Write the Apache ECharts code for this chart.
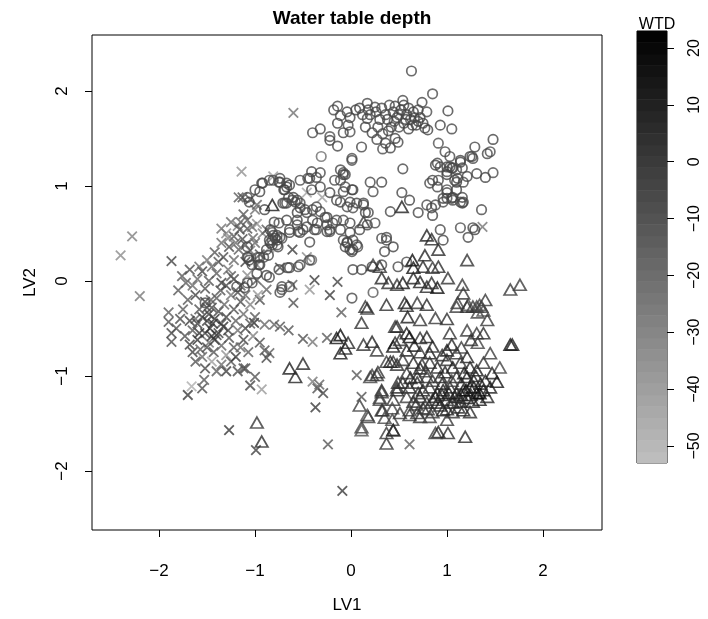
<!DOCTYPE html>
<html>
<head>
<meta charset="utf-8">
<script src="https://cdn.jsdelivr.net/npm/echarts@6/dist/echarts.min.js"></script>
<style>
html,body{margin:0;padding:0;background:#fff}
#chart{width:708px;height:619px}
</style>
</head>
<body>
<div id="chart"></div>
<script>
// Sites as [LV1, LV2, WTD]; one array per group/symbol.
const crossPts = [
[-2.40,0.27,-32],[-2.28,0.47,-28],[-2.20,-0.16,-24],[-1.87,0.21,-4],[-1.14,1.15,-34],[-0.60,1.77,-22],[-0.81,1.10,-40],[-0.46,0.93,-42],[-0.30,0.88,-40],[1.37,0.57,-24],[-0.09,-2.21,0],[-1.27,-1.57,2],[-0.99,-1.78,-2],[-0.24,-1.72,-12],[0.61,-1.72,-14],
[-1.90,-0.33,-14],[-1.90,-0.43,-10],[-1.87,-0.55,-6],[-1.87,-0.64,-8],[-1.70,-1.20,0],[-1.66,-1.11,-46],[-1.53,-1.04,-12],[-1.55,-1.13,-8],[-1.05,-1.10,-5],[-1.00,-1.01,-10],[-0.93,-1.14,-38],[-1.10,-0.92,-5],[-0.90,-0.73,-10],[-0.85,-0.76,-14],[-1.01,-0.44,6],
[-0.90,-0.46,-18],[-0.80,-0.46,-16],[-0.74,-0.48,-12],[-0.65,-0.52,-10],[-0.50,-0.61,-8],[-0.40,-0.64,-24],[-0.25,-0.60,-12],[-0.88,-0.81,-6],[-1.12,-0.92,-8],[-0.40,-1.06,-26],[-0.35,-1.13,-10],[-0.29,-1.18,-4],[-0.37,-1.33,0],[-0.33,-1.09,-16],[0.06,-0.99,-12],[0.11,-1.22,-10],[-0.10,-0.33,-14],
[-0.60,-0.23,-10],[-0.38,0.01,-2],[-0.14,-0.01,-4],[-0.22,-0.15,0],[-0.61,-0.04,-14],[-0.43,-0.09,-36],[-0.61,0.33,-2],[-0.46,0.25,-32],[-0.74,0.14,-6],[-0.98,0.01,-12],[-0.88,-0.09,-16],[-0.95,-0.20,-8],
[-1.17,0.88,-14],[-1.05,0.86,-7],[-1.00,0.75,-22],[-1.12,0.70,-12],[-1.25,0.62,-17],[-1.18,0.58,-25],[-1.08,0.55,-10],[-0.98,0.60,-34],[-1.30,0.50,-32],[-1.22,0.47,-12],[-1.13,0.44,-7],[-1.02,0.45,-17],[-0.92,0.50,-28],[-1.35,0.40,-20],[-1.27,0.36,-6],[-1.17,0.33,-14],[-1.05,0.32,-22],[-0.95,0.28,-10],[-0.85,0.35,-40],[-1.42,0.30,-12],[-1.33,0.25,-8],[-1.22,0.22,-18],[-1.10,0.20,-4],[-0.98,0.17,-28],
[-1.76,0.05,-12],[-1.68,0.12,-7],[-1.60,0.02,-17],[-1.55,0.10,-4],[-1.48,0.00,-10],[-1.40,0.08,-14],[-1.35,-0.02,-2],[-1.28,0.12,-22],[-1.22,0.02,-6],[-1.15,-0.05,-12],[-1.08,0.06,-32],[-1.65,-0.05,-20],[-1.52,-0.08,-8],[-1.72,-0.02,-14],
[-1.70,-0.20,-12],[-1.62,-0.15,-4],[-1.58,-0.30,-10],[-1.52,-0.22,-2],[-1.48,-0.35,0],[-1.45,-0.28,-6],[-1.42,-0.40,2],[-1.40,-0.18,-12],[-1.38,-0.32,-4],[-1.35,-0.45,-8],[-1.32,-0.25,-17],[-1.30,-0.38,-2],[-1.25,-0.15,-22],[-1.22,-0.30,-10],[-1.20,-0.42,-14],[-1.15,-0.22,-7],[-1.12,-0.35,-20],[-1.05,-0.25,-28],[-1.00,-0.38,-12],[-0.97,-0.15,-36],[-1.50,-0.42,-4],[-1.62,-0.40,-17],[-1.44,-0.45,3],[-1.55,-0.38,0],
[-1.73,-0.58,-7],[-1.68,-0.67,-2],[-1.65,-0.52,-12],[-1.60,-0.62,3],[-1.57,-0.72,-14],[-1.52,-0.55,-4],[-1.48,-0.65,-22],[-1.43,-0.75,-10],[-1.40,-0.57,-6],[-1.35,-0.68,-17],[-1.30,-0.78,-34],[-1.27,-0.60,-8],[-1.22,-0.70,-12],[-1.18,-0.52,-20],[-1.12,-0.62,-4],[-1.07,-0.75,-14],[-1.02,-0.58,-28],[-0.95,-0.65,-10],[-1.45,-0.85,-40],[-1.35,-0.88,-20],[-1.25,-0.85,-12],[-1.18,-0.95,-7],[-1.55,-0.80,-17],
[-1.13,0.88,-10],[-0.98,0.80,-16],[-1.08,0.64,-12],[-1.03,0.57,-20],[-1.16,0.54,-8],[-0.88,0.54,-14],
[-1.60,-0.45,-2],[-1.47,-0.50,2],[-1.38,-0.55,-4],[-1.33,-0.48,4],[-1.28,-0.52,-6],[-1.42,-0.62,0],[-1.50,-0.28,-7],[-1.46,-0.20,-14],[-1.36,-0.10,-10],[-1.30,-0.05,-4],[-1.25,0.05,-12],[-1.18,-0.12,-8],[-1.10,-0.15,-16],[-1.58,-0.55,2],[-1.65,-0.75,-4],[-1.62,-0.85,-10],[-1.52,-0.92,-6],[-1.40,-0.95,-14],[-1.30,-0.95,-2],[-1.20,-0.80,0],[-1.15,-0.70,-18],[-1.10,-0.50,-6],[-1.05,-0.45,-12],[-1.45,0.15,-16],[-1.38,0.20,-10],[-1.50,0.22,-22],[-1.58,0.15,-18],[-1.80,-0.10,-12],[-1.78,-0.40,-6],[-1.82,-0.50,-10],[-1.68,-0.42,-2],[-1.75,-0.30,-14],[-1.20,0.40,-20],[-1.28,0.45,-28],[-1.10,0.38,-12],[-1.00,0.40,-18],[-1.35,0.55,-22],[-1.15,0.62,-16],[-1.45,-0.58,2],[-1.50,-0.70,-8]
];

const circlePts = [
[0.63,2.21,-5],[0.85,1.97,-7],[1.01,1.79,-3],[1.05,1.60,-6],[0.93,1.64,-4],[0.91,1.45,-9],
[-0.14,1.84,-5],[-0.04,1.78,-3],[-0.11,1.74,-7],[-0.01,1.72,-4],[-0.03,1.64,-6],[-0.14,1.66,-2],
[-0.40,1.56,-7],[-0.32,1.60,-5],[-0.22,1.52,-9],[-0.22,1.48,-3],[-0.14,1.42,-6],[-0.08,1.56,-4],[-0.01,1.57,-8],
[0.11,1.41,-5],[0.01,1.29,-7],[-0.31,1.31,-20],
[0.09,1.82,-3],[0.17,1.87,-6],[0.18,1.80,-4],[0.25,1.83,-7],[0.17,1.71,-5],[0.22,1.56,-3],[0.27,1.49,-6],[0.33,1.39,-8],[0.41,1.40,-4],[0.49,1.46,-5],[0.33,1.55,-7],[0.39,1.58,-3],
[0.44,1.78,-4],[0.48,1.72,-6],[0.52,1.80,-1],[0.55,1.66,-5],[0.58,1.75,-3],[0.62,1.70,-7],[0.65,1.78,-2],[0.68,1.64,-6],[0.72,1.72,-4],[0.75,1.66,-5],[0.50,1.62,-8],[0.60,1.60,-3],[0.45,1.68,-6],[0.55,1.85,-4],[0.70,1.80,-5],
[0.54,1.90,-6],[0.74,1.88,-4],[0.79,1.78,-7],[0.77,1.61,-5],[0.80,1.59,-3],
[0.36,1.75,-5],[0.40,1.85,-7],[0.30,1.70,-4],[0.28,1.62,-6],
[0.20,1.75,-5],[0.26,1.78,-4],[0.32,1.82,-6],[0.38,1.70,-3],[0.46,1.84,-5],[0.50,1.75,-7],[0.57,1.70,-4],[0.60,1.82,-6],[0.66,1.72,-5],[0.70,1.68,-3],[0.64,1.64,-6],[0.42,1.62,-5],[0.12,1.75,-7],[0.05,1.80,-4],[-0.18,1.80,-6],[0.15,1.62,-5],[0.46,1.50,-4],[0.36,1.45,-6],
[-0.41,1.15,-5],[-0.32,1.14,-7],[-0.43,1.08,-3],[-0.17,1.06,-6],[-0.08,1.12,-4],[-0.06,0.99,-8],[0.01,0.96,-5],[0.20,1.04,-6],[0.32,1.04,-4],[0.23,0.94,-7],[0.53,0.93,-5],[0.61,0.85,-3],[0.41,0.73,-6],[0.70,0.72,-5],[0.79,0.80,-7],[0.85,0.69,-4],[0.84,0.77,-6],
[0.90,1.24,-5],[1.00,1.20,-3],[1.06,1.19,-6],[1.14,1.27,-4],[1.26,1.31,-7],[1.21,1.10,-5],[1.10,1.04,-3],[1.00,0.87,-6],[1.06,0.85,-8],[1.17,0.83,-4],[1.16,0.88,-5],
[0.93,0.54,-6],[0.96,0.43,-4],[1.14,0.56,-7],[1.22,0.46,-5],[1.29,0.54,-3],
[-0.67,1.03,-6],[-0.60,0.88,-4],[-0.53,0.82,-7],[-0.71,0.82,-5],[-0.56,0.72,-3],[-0.40,0.75,-6],[-0.32,0.73,-8],[-0.25,0.67,-4],[-0.15,0.85,-5],[-0.04,0.78,-7],[0.06,0.82,-3],[0.13,0.82,-6],[0.18,0.72,-5],[0.17,0.59,-4],[0.25,0.61,-7],[0.09,0.54,-5],[-0.01,0.51,-6],[-0.04,0.41,-3],[0.06,0.38,-8],[0.02,0.33,-4],[-0.08,0.43,-6],[0.32,0.45,-5],[0.37,0.43,-7],[0.44,0.36,-4],[-0.15,0.64,-5],[-0.22,0.54,-6],[-0.35,0.61,-3],[-0.46,0.57,-7],[-0.53,0.51,-5],[-0.64,0.51,-4],[-0.74,0.46,-6],[-0.41,0.22,-18],[-0.53,0.17,-8],[-0.66,0.14,-5],
[0.02,0.12,-6],[0.22,0.15,-4],[0.32,0.17,-7],[0.49,0.15,-5],[0.23,-0.12,-12],[0.01,-0.18,-6],[0.11,0.12,-5],[0.58,0.20,-7],
[-0.92,1.03,-5],[-0.81,1.06,-7],[-0.95,0.94,-4],[-0.74,1.04,-6],[-0.67,0.99,-3],[-0.53,1.06,-5],[-0.11,1.17,-6],[-0.06,1.12,-4],[0.01,1.27,-7],
[-0.67,0.82,-5],[-0.58,0.83,-6],[-0.53,0.77,-4],[-0.46,0.72,-7],[-0.40,0.64,-5],[-0.67,0.64,-3],[-0.56,0.59,-6],[-0.64,0.54,-8],[-0.50,0.54,-5],[-0.38,0.54,-4],[-0.25,0.59,-6],[-0.22,0.52,-7],[-0.11,0.54,-5],[-0.01,0.61,-3],[0.02,0.43,-6],[-0.06,0.36,-5],[-0.01,0.33,-4],[-0.81,0.48,-6],[-0.84,0.40,-7],[-0.77,0.43,-5],[-0.88,0.33,-3],[-1.08,0.36,-6],[-1.07,0.25,-5],[-0.97,0.25,-9],[-0.95,0.17,-4],[-1.03,0.17,-6],[-0.98,0.08,-7],[-1.08,-0.02,-5],[-1.19,-0.06,-6],[-0.88,0.06,-4],[-0.43,0.22,-6],[-0.72,-0.09,-8],[-0.64,-0.06,-5],[-1.52,-0.23,-7],
[0.98,1.36,-6],[0.93,1.20,-7],[1.03,1.31,-5],[1.14,1.25,-3],[1.05,1.19,-6],[1.16,1.19,-5],[1.11,1.08,-4],[1.17,1.04,-7],[1.08,1.06,-5],[1.00,1.15,-6],[0.85,1.06,-3],[0.90,0.99,-5],[1.00,0.96,-7],[1.10,0.96,-4],[0.96,0.87,-6],[1.05,0.87,-5],[1.16,0.82,-3],[0.88,0.80,-6],[1.48,1.49,-4],[1.45,1.36,-7],[1.42,1.34,-5],[1.29,1.41,-6],[1.24,1.31,-3],[1.27,1.29,-5],[1.31,1.13,-6],[1.40,1.09,-4],[1.48,1.14,-7],[1.36,0.75,-5],[1.27,0.56,-5],
[0.82,1.03,-6],[1.00,0.93,-5],[1.06,0.88,-4],[0.96,0.83,-7],[1.14,0.83,-5],[0.54,1.18,-6],[0.88,1.22,-4],[1.03,1.20,-5],[1.10,1.17,-7],[1.00,1.12,-3],[0.91,1.06,-6],
[0.37,0.46,-5],[0.35,0.31,-6],[-0.04,0.40,-4],[0.07,0.36,-7],[0.01,0.31,-5],
[0.13,0.80,-6],[0.15,0.72,-4],[0.02,0.77,-7],[-0.01,0.83,-5],[-0.08,0.94,-6],[0.02,0.96,-3],[-0.11,1.06,-5],[-0.08,1.14,-7],
[-0.74,1.08,-6],[-0.64,1.01,-4],[-0.69,0.96,-5],[-0.45,1.08,-7],[-0.36,1.09,-5],[-0.32,0.99,-6],[-0.41,0.96,-4],[-0.56,0.85,-7],[-0.48,0.75,-5],[-0.36,0.78,-6],[-0.22,0.93,-4],[-0.11,0.83,-5],[-0.27,0.67,-7],[-0.19,0.61,-6],[-0.08,0.64,-5],[-0.56,0.64,-4],[-0.55,0.52,-6],[-0.36,0.54,-7],[-0.25,0.52,-5],[-0.43,0.41,-6],[-0.84,0.54,-4],[-0.77,0.48,-5],[-0.82,0.43,-7],[-0.76,0.36,-6],[-0.95,0.25,-5],[-0.86,0.27,-4],[-0.64,0.14,-6],[-0.55,0.15,-7],
[-0.93,1.03,-5],[-0.85,1.06,-6],[-1.00,0.96,-4],[-1.08,0.88,-7],[-1.06,0.83,-5],[-0.75,1.04,-6],[-0.70,0.96,-3],[-0.65,0.88,-5],[-0.69,0.82,-7],[-0.61,0.85,-6],[-0.90,0.75,-4],[-0.80,0.62,-5],[-0.75,0.61,-6],[-0.82,0.51,-7],[-0.85,0.43,-5],[-0.79,0.45,-4],[-0.72,0.45,-6],[-0.77,0.38,-5],[-0.82,0.38,-7],[-1.08,0.25,-6],[-1.06,0.22,-4],[-0.96,0.17,-5],[-0.91,0.25,-7],[-0.85,0.04,-6],[-1.03,-0.02,-5],[-1.11,-0.07,-4],[-0.75,0.12,-6],[-0.72,-0.06,-7],[-0.74,-0.12,-5]
];

const trianglePts = [
[0.53,0.78,10],[-0.82,0.80,13],[0.79,0.48,9],[0.84,0.44,7],[0.91,0.33,5],[0.77,0.27,8],[1.21,0.22,3],[0.64,0.22,17],[0.65,0.14,15],[0.75,0.15,7],[0.85,0.14,1],[0.91,0.15,5],[0.23,0.17,1],[0.30,0.15,3],[0.13,0.62,-1],[0.32,0.03,7],[0.39,-0.02,5],[0.48,-0.04,2],[0.54,-0.02,13],[0.65,0.03,9],[0.72,-0.01,11],[0.79,-0.06,7],[0.90,-0.07,15],[0.84,-0.02,5],[1.01,0.03,3],[1.16,-0.04,-1],[1.17,-0.13,1],[1.31,-0.27,-3],
[1.66,-0.09,1],[1.76,-0.04,-1],[1.27,-0.27,-1],[1.34,-0.25,-5],[1.40,-0.20,1],[1.32,-0.33,-3],[1.38,-0.31,-7],
[0.15,-0.27,3],[0.37,-0.25,5],[0.56,-0.23,9],[0.69,-0.23,1],[0.79,-0.25,7],[1.11,-0.23,-1],[1.22,-0.25,-5],[0.17,-0.29,5],[0.11,-0.44,2],
[-0.11,-0.57,19],[-0.06,-0.71,11],[-0.03,-0.65,7],[-0.11,-0.76,13],[-0.15,-0.60,15],[0.13,-0.67,3],[0.22,-0.64,9],[0.27,-0.73,1],[0.46,-0.65,5],[0.46,-0.48,2],[0.37,-0.85,-1],[0.44,-0.85,3],[0.20,-1.01,-3],[0.27,-0.99,1],
[0.32,-1.15,7],[0.30,-1.23,-1],[0.33,-1.36,1],[0.35,-1.44,-5],[0.48,-1.12,5],[0.44,-1.25,3],[0.43,-1.46,-3],[0.44,-1.57,1],[0.37,-1.71,3],[0.09,-1.31,-1],[0.17,-1.41,-7],[0.11,-1.54,-3],[0.11,-1.57,-9],
[-0.64,-0.92,11],[-0.50,-0.87,7],[-0.58,-1.01,9],[-0.98,-1.49,1],[-0.93,-1.69,5],
[0.58,-0.26,7],[0.88,-0.39,1],[1.00,-0.40,5],[1.10,-0.27,-1],[1.21,-0.27,3],[1.36,-0.27,-3],[1.42,-0.41,1],[0.59,-0.38,11],[0.72,-0.41,3],
[0.48,-0.48,7],[0.58,-0.55,13],[0.72,-0.60,5],[0.79,-0.59,9],[1.03,-0.55,3],[1.05,-0.67,7],[1.21,-0.52,-1],[1.31,-0.55,1],[1.38,-0.55,5],[1.32,-0.65,-3],[0.44,-0.69,15],[0.58,-0.73,9],[0.72,-0.75,3],[0.82,-0.76,11],[0.61,-0.59,17],[0.51,-0.62,1],[0.85,-0.69,7],[1.00,-0.73,13],[1.10,-0.76,3],[1.21,-0.80,9],[1.66,-0.67,15],[1.68,-0.67,11],
[0.22,-0.99,-1],[0.28,-0.96,3],[0.41,-0.85,9],[0.48,-0.88,5],[0.54,-0.83,1],[0.65,-0.86,7],[0.72,-0.92,11],[0.82,-0.86,3],[0.90,-0.91,9],[1.00,-0.83,5],[1.06,-0.91,13],[1.14,-0.86,1],[1.24,-0.91,7],[1.31,-0.94,11],[1.38,-0.86,3],[1.45,-0.76,-1],[1.55,-0.91,-3],[1.47,-0.97,9],[1.52,-1.06,15],[0.58,-0.97,3],[0.69,-1.01,7],[0.79,-1.01,1],[0.93,-1.01,11],[1.10,-1.01,5],[1.21,-1.01,9],
[0.54,-1.07,3],[0.61,-1.12,9],[0.69,-1.07,5],[0.75,-1.15,11],[0.82,-1.12,1],[0.90,-1.18,7],[0.96,-1.15,13],[1.03,-1.12,5],[1.10,-1.18,9],[1.17,-1.15,15],[1.24,-1.12,11],[1.31,-1.18,17],[1.38,-1.15,13],[1.45,-1.12,9],
[0.58,-1.22,-1],[0.65,-1.27,3],[0.72,-1.22,7],[0.79,-1.28,1],[0.85,-1.25,5],[0.93,-1.31,9],[1.00,-1.25,3],[1.06,-1.28,7],[1.14,-1.27,11],[1.21,-1.23,15],[1.27,-1.27,9],[1.34,-1.25,13],[1.42,-1.22,7],
[0.61,-1.36,-3],[0.69,-1.39,1],[0.75,-1.34,5],[0.85,-1.38,-1],[0.96,-1.36,7],[1.06,-1.38,3],[1.17,-1.36,9],[1.24,-1.38,5],
[0.32,-1.17,1],[0.30,-1.25,-3],[0.18,-1.43,-1],[0.32,-1.36,3],[0.43,-1.34,-5],[0.51,-1.39,1],[0.48,-1.15,7],[0.49,-1.07,5],
[0.37,-1.60,1],[0.44,-1.57,7],[0.61,-1.41,-1],[0.72,-1.43,3],[0.82,-1.43,-3],[1.00,-1.46,1],[1.01,-1.60,5],[1.19,-1.64,7],[0.88,-1.60,-1],[0.91,-1.59,9],
[0.85,-1.05,1],[0.95,-1.08,7],[1.05,-1.05,-1],[1.15,-1.08,5],[1.28,-1.05,11],[1.35,-1.08,7],[0.70,-1.18,3],[0.88,-1.22,11],[1.12,-1.22,1],[1.25,-1.20,7],[0.78,-0.95,-1],[1.18,-0.97,13],[0.98,-0.96,9],
[0.95,-1.20,9],[1.02,-1.18,13],[1.08,-1.22,7],[1.15,-1.20,11],[1.20,-1.15,17],[1.28,-1.12,13],[1.34,-1.18,19],[1.40,-1.05,11],[1.30,-1.00,7],[0.90,-1.28,5],[0.80,-1.35,1],[1.00,-1.35,9],[1.12,-1.33,5],[0.68,-1.30,3],[0.62,-1.02,9],[0.74,-0.88,3],[0.95,-0.78,7],[1.15,-0.70,1],[1.25,-0.62,5],[0.66,-0.68,11]
];

const xTicks = [-2, -1, 0, 1, 2];
const yTicks = [-2, -1, 0, 1, 2];
const wtdTicks = [-50, -40, -30, -20, -10, 0, 10, 20];
const wtdRange = [-53, 23];
const wtdStep = 2;

// Grey ramp: shallow water tables (high WTD) dark, deep ones light.
function greyFor(w) {
  const t = (wtdRange[1] - w) / (wtdRange[1] - wtdRange[0]);
  const g = Math.round(192 * Math.min(1, Math.max(0, t)));
  return 'rgb(' + g + ',' + g + ',' + g + ')';
}

function asItems(pts) {
  return pts.map(p => ({ value: p, itemStyle: { borderColor: greyFor(p[2]) } }));
}

// Colour-key bands
const bands = [];
for (let lo = wtdRange[0]; lo < wtdRange[1]; lo += wtdStep) {
  bands.push([lo, Math.min(lo + wtdStep, wtdRange[1])]);
}

const minus = v => String(v).replace('-', '\u2212');
const font = 'Liberation Sans, Arial, Helvetica, sans-serif';

const chart = echarts.init(document.getElementById('chart'), null, { renderer: 'canvas' });

chart.setOption({
  animation: false,
  backgroundColor: '#fff',
  textStyle: { fontFamily: font, color: '#000' },
  title: [
    { text: 'Water table depth', left: 347, top: 4, textAlign: 'center',
      textStyle: { fontFamily: font, fontSize: 19, fontWeight: 'bold', color: '#000' } },
    { text: 'WTD', left: 652, top: 12, textAlign: 'center',
      textStyle: { fontFamily: font, fontSize: 16, fontWeight: 'normal', color: '#000' } }
  ],
  grid: [
    { left: 92, top: 35, width: 510, height: 495, show: true, borderColor: '#000', borderWidth: 1, backgroundColor: 'transparent' },
    { left: 637, top: 31, width: 30, height: 432, show: true, borderColor: '#000', borderWidth: 1, backgroundColor: 'transparent' }
  ],
  xAxis: [
    { type: 'value', gridIndex: 0, min: -2.698, max: 2.615,
      name: 'LV1', nameLocation: 'middle', nameGap: 67,
      nameTextStyle: { fontFamily: font, fontSize: 17, color: '#000' },
      axisLine: { show: false, onZero: false },
      axisTick: { show: true, length: 7, customValues: xTicks, lineStyle: { color: '#000', width: 1 } },
      axisLabel: { customValues: xTicks, margin: 33, fontSize: 17, color: '#000', fontFamily: font, formatter: minus },
      splitLine: { show: false } },
    { type: 'value', gridIndex: 1, min: 0, max: 1, show: false }
  ],
  yAxis: [
    { type: 'value', gridIndex: 0, min: -2.621, max: 2.589,
      name: 'LV2', nameLocation: 'middle', nameGap: 53, nameRotate: 90,
      nameTextStyle: { fontFamily: font, fontSize: 17, color: '#000' },
      axisLine: { show: false, onZero: false },
      axisTick: { show: true, length: 7, customValues: yTicks, lineStyle: { color: '#000', width: 1 } },
      axisLabel: { customValues: yTicks, rotate: 90, margin: 21, fontSize: 17, color: '#000', fontFamily: font, formatter: minus },
      splitLine: { show: false } },
    { type: 'value', gridIndex: 1, min: wtdRange[0], max: wtdRange[1], position: 'right',
      axisLine: { show: false, onZero: false },
      axisTick: { show: true, length: 7, customValues: wtdTicks, lineStyle: { color: '#000', width: 1 } },
      axisLabel: { customValues: wtdTicks, rotate: 90, margin: 20, fontSize: 16, color: '#000', fontFamily: font, formatter: minus },
      splitLine: { show: false } }
  ],
  series: [
    { type: 'scatter', xAxisIndex: 0, yAxisIndex: 0, data: asItems(crossPts),
      symbol: 'path://M0,0L10,10M0,10L10,0', symbolSize: 9.5,
      itemStyle: { color: 'transparent', borderWidth: 1.8 }, silent: true, emphasis: { disabled: true } },
    { type: 'scatter', xAxisIndex: 0, yAxisIndex: 0, data: asItems(circlePts),
      symbol: 'circle', symbolSize: 9.5,
      itemStyle: { color: 'transparent', borderWidth: 1.7 }, silent: true, emphasis: { disabled: true } },
    { type: 'scatter', xAxisIndex: 0, yAxisIndex: 0, data: asItems(trianglePts),
      symbol: 'triangle', symbolSize: [12.5, 11],
      itemStyle: { color: 'transparent', borderWidth: 1.7 }, silent: true, emphasis: { disabled: true } },
    { type: 'custom', xAxisIndex: 1, yAxisIndex: 1, data: bands, silent: true,
      renderItem: function (params, api) {
        const lo = api.value(0), hi = api.value(1);
        const p0 = api.coord([0, hi]);
        const p1 = api.coord([1, lo]);
        return { type: 'rect', shape: { x: p0[0], y: p0[1], width: p1[0] - p0[0], height: p1[1] - p0[1] + 0.5 },
                 style: { fill: greyFor((lo + hi) / 2), stroke: null } };
      } }
  ]
});
</script>
</body>
</html>
